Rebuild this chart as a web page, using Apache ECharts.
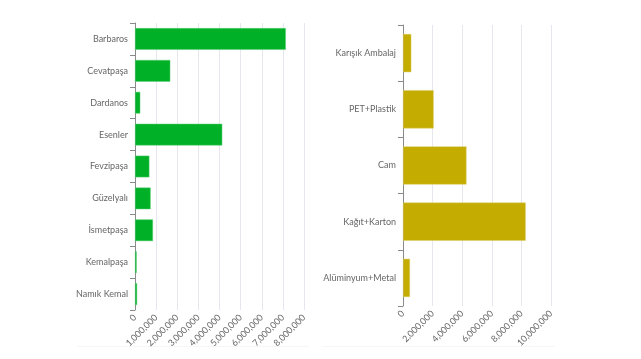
<!DOCTYPE html>
<html>
<head>
<meta charset="utf-8">
<script src="https://cdn.jsdelivr.net/npm/echarts@6/dist/echarts.min.js"></script>
<style>html,body{margin:0;padding:0;background:#fff}#c{width:641px;height:359px}</style>
</head>
<body>
<div id="c"></div>
<script>
const neighbourhoods = ['Barbaros','Cevatpaşa','Dardanos','Esenler','Fevzipaşa','Güzelyalı','İsmetpaşa','Kemalpaşa','Namık Kemal'];
const neighbourhoodValues = [7140000, 1670000, 250000, 4130000, 680000, 740000, 850000, 80000, 100000];
const materials = ['Karışık Ambalaj','PET+Plastik','Cam','Kağıt+Karton','Alüminyum+Metal'];
const materialValues = [560000, 2070000, 4290000, 8290000, 470000];
const leftTicks = {min: 0, max: 8000000, interval: 1000000};
const rightTicks = {min: 0, max: 10000000, interval: 2000000};

const font = 'Lato, "Noto Sans", sans-serif';
const fmt = v => Math.round(v).toString().replace(/\B(?=(\d{3})+(?!\d))/g, ',');
const gridColor = '#e6e6ee';
const axisColor = '#8a8a8a';
const labelColor = '#666';

function xAx(gridIndex, t) {
  return {
    type: 'value', gridIndex, min: t.min, max: t.max, interval: t.interval,
    axisLine: {show: false}, axisTick: {show: false},
    splitLine: {show: true, lineStyle: {color: gridColor, width: 1}},
    axisLabel: {rotate: 45, fontSize: 9, color: labelColor, fontFamily: font, margin: 6, formatter: fmt, hideOverlap: false, showMinLabel: true, showMaxLabel: true}
  };
}
function yAx(gridIndex, cats) {
  return {
    type: 'category', gridIndex, data: cats, inverse: true,
    axisLine: {show: true, lineStyle: {color: axisColor, width: 1}},
    axisTick: {show: true, length: 5, lineStyle: {color: axisColor}},
    axisLabel: {fontSize: 9, color: labelColor, fontFamily: font, margin: 7},
    splitLine: {show: false}
  };
}
const chart = echarts.init(document.getElementById('c'), null, {renderer: 'canvas'});
chart.setOption({
  animation: false,
  backgroundColor: '#fff',
  grid: [
    {left: 135, top: 23, width: 169, height: 287, containLabel: false},
    {left: 403, top: 25, width: 148, height: 281, containLabel: false}
  ],
  xAxis: [xAx(0, leftTicks), xAx(1, rightTicks)],
  yAxis: [yAx(0, neighbourhoods), yAx(1, materials)],
  graphic: [
    {type: 'line', shape: {x1: 77, y1: 346.5, x2: 309, y2: 346.5}, style: {stroke: '#f6f6f6', lineWidth: 1}},
    {type: 'line', shape: {x1: 322, y1: 346.5, x2: 555, y2: 346.5}, style: {stroke: '#f6f6f6', lineWidth: 1}}
  ],
  series: [
    {type: 'bar', xAxisIndex: 0, yAxisIndex: 0, data: neighbourhoodValues, barCategoryGap: '32%', barMinHeight: 1,
     itemStyle: {color: '#00b026', borderColor: '#5fd078', borderWidth: 0.5}},
    {type: 'bar', xAxisIndex: 1, yAxisIndex: 1, data: materialValues, barCategoryGap: '32%',
     itemStyle: {color: '#c4ac00', borderColor: '#ddcf66', borderWidth: 0.5}}
  ]
});
</script>
</body>
</html>
